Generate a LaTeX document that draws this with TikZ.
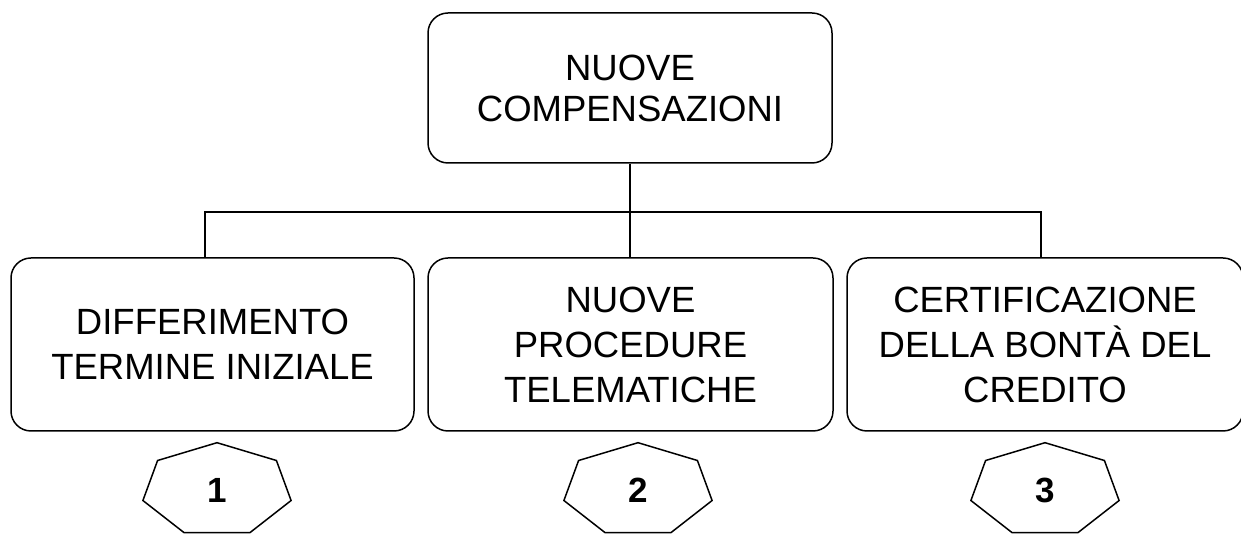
\documentclass[tikz,border=0pt]{standalone}
\usepackage{fontspec}
\setmainfont{Liberation Sans}
\usepackage{tikz}

\begin{document}
\begin{tikzpicture}[x=0.5pt,y=0.5pt,
		box/.style={draw, line width=0.75pt, rounded corners=10pt, align=center, inner sep=0pt, minimum height=86.5pt, font=\fontsize{18.25}{22.5}\selectfont},
		hept/.style={draw, line width=0.75pt, line join=miter},
		num/.style={font=\fontsize{17.5}{20}\selectfont\bfseries, inner sep=0pt}]
	\useasboundingbox (0,0) rectangle (1241,534);
	\node[box, minimum width=202pt, minimum height=75pt, font=\fontsize{18.25}{20.5}\selectfont] (top) at (630,446) {NUOVE\\COMPENSAZIONI};
	\node[box, minimum width=201.5pt] (diff) at (212.5,189.5) {DIFFERIMENTO\\TERMINE INIZIALE};
	\node[box, minimum width=202.5pt] (proc) at (630.5,189.5) {NUOVE\\PROCEDURE\\TELEMATICHE};
	\node[box, minimum width=198pt] (cert) at (1045,189.5) {CERTIFICAZIONE\\DELLA BONTÀ DEL\\CREDITO};
	
	\coordinate (jl) at (205,322);
	\coordinate (jr) at (1041,322);
	\draw[line width=0.75pt] (top.south) -- (top.south |- proc.north);
	\draw[line width=0.75pt] (jl |- diff.north) -- (jl) -- (jr) -- (jr |- cert.north);
	
	\foreach \n/\hx in {1/217,2/638,3/1045}{
		\coordinate (h\n) at (\hx,44);
		\draw[hept] ([shift={(h\n)}]90:76 and 47.3) \foreach \a in {1,...,6}{ -- ([shift={(h\n)}]90+\a*360/7:76 and 47.3)} -- cycle;
		\node[num] (n\n) at (h\n) {\n};
	}
\end{tikzpicture}
\end{document}
